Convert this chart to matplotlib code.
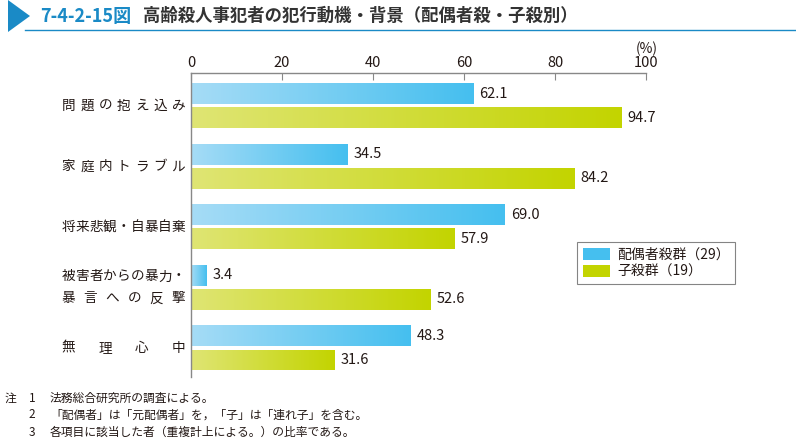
import matplotlib
matplotlib.use('Agg')
import matplotlib.pyplot as plt
from matplotlib.colors import LinearSegmentedColormap
from matplotlib.patches import Polygon, Patch
import numpy as np

plt.rcParams['font.family'] = ['Noto Sans CJK JP', 'DejaVu Sans']

# data
categories = ['問題の抱え込み', '家庭内トラブル', '将来悲観・自暴自棄',
              '被害者からの暴力・\n暴言への反撃', '無理心中']
spouse = [62.1, 34.5, 69.0, 3.4, 48.3]
child = [94.7, 84.2, 57.9, 52.6, 31.6]
series_names = ['配偶者殺群（29）', '子殺群（19）']
xticks = [0, 20, 40, 60, 80, 100]
notes = ['法務総合研究所の調査による。',
         '「配偶者」は「元配偶者」を，「子」は「連れ子」を含む。',
         '各項目に該当した者（重複計上による。）の比率である。']

txt = '#231815'
blue_l, blue_d = '#a6dcf6', '#45bfef'
green_l, green_d = '#dfe574', '#c3d400'
W, H = 796, 438

fig = plt.figure(figsize=(W / 100, H / 100), dpi=100)
ax = fig.add_axes([191 / W, 1 - 377 / H, (646 - 191) / W, (377 - 73) / H])

y = np.arange(len(categories))
bh = 0.345
off = 0.2
b1 = ax.barh(y - off, spouse, height=bh, color=blue_d)
b2 = ax.barh(y + off, child, height=bh, color=green_d)

# gradient fill on every bar
grad = np.linspace(0, 1, 256).reshape(1, -1)
for bars, c0, c1 in [(b1, blue_l, blue_d), (b2, green_l, green_d)]:
    cmap = LinearSegmentedColormap.from_list('g', [c0, c1])
    for p in bars:
        x0, yy = p.get_x(), p.get_y()
        im = ax.imshow(grad, extent=[x0, x0 + p.get_width(), yy + p.get_height(), yy],
                       aspect='auto', cmap=cmap, zorder=p.get_zorder() + 0.1)
        im.set_clip_path(p)

for bars, vals in [(b1, spouse), (b2, child)]:
    for p, v in zip(bars, vals):
        ax.text(v + 1.3, p.get_y() + p.get_height() / 2, f'{v:.1f}',
                va='center', ha='left', fontsize=10.5, color=txt)

ax.set_xlim(0, 100)
ax.set_ylim(4.48, -0.54)
ax.set_aspect('auto')
ax.xaxis.tick_top()
ax.set_xticks(xticks)
ax.set_xticklabels([str(t) for t in xticks], fontsize=10.5, color=txt)
ax.tick_params(axis='x', direction='in', length=5, color='#888888', pad=2)
ax.set_yticks([])
for s in ['right', 'bottom']:
    ax.spines[s].set_visible(False)
for s in ['left', 'top']:
    ax.spines[s].set_color('#888888')
    ax.spines[s].set_linewidth(1)

# category labels, justified between x=62 and x=185
def spread(label, ypix, x0=62, x1=185, cw=13.2):
    n = len(label)
    xs = np.linspace(x0 + cw / 2, x1 - cw / 2, n) if n > 1 else [x1 - cw / 2]
    for ch, xp in zip(label, xs):
        fig.text(xp / W, 1 - ypix / H, ch, ha='center', va='center',
                 fontsize=9.8, color=txt)

for i, lab in enumerate(categories):
    yc = ax.transData.transform((0, i))[1]
    ypix = H - yc
    lines = lab.split('\n')
    if len(lines) == 1:
        spread(lines[0], ypix)
    else:
        spread(lines[0], ypix - 11)
        spread(lines[1], ypix + 11)

# legend
handles = [Patch(facecolor=blue_d, edgecolor='none'),
           Patch(facecolor=green_d, edgecolor='none')]
leg = fig.legend(handles, series_names, loc='upper left',
                 bbox_to_anchor=(577 / W, 1 - 242 / H), fontsize=10,
                 frameon=True, fancybox=False, edgecolor='#666666',
                 handlelength=2.0, handleheight=0.95, handletextpad=0.5,
                 borderpad=0.4, labelspacing=0.2, borderaxespad=0)
leg.get_frame().set_linewidth(0.8)
for t in leg.get_texts():
    t.set_color(txt)

# header
fig.patches.append(Polygon([[8 / W, 1 - 0 / H], [8 / W, 1 - 32 / H], [30 / W, 1 - 16 / H]],
                           closed=True, transform=fig.transFigure,
                           facecolor='#1a8ac6', edgecolor='none'))
fig.add_artist(plt.Line2D([25 / W, 1], [1 - 30 / H, 1 - 30 / H],
                          transform=fig.transFigure, color='#1a8ac6', lw=1))
fig.text(40 / W, 1 - 16 / H, '7-4-2-15図', ha='left', va='center', fontsize=13,
         fontweight='bold', color='#1a8ac6')
fig.text(143 / W, 1 - 16 / H, '高齢殺人事犯者の犯行動機・背景（配偶者殺・子殺別）',
         ha='left', va='center', fontsize=12.5, fontweight='bold', color='#333333')

# percent unit above the 100 tick
fig.text(647 / W, 1 - 49 / H, '(%)', ha='center', va='center', fontsize=10, color=txt)

# notes
fig.text(5 / W, 1 - 398 / H, '注', ha='left', va='center', fontsize=8.5, color=txt)
for k, n in enumerate(notes):
    yp = 1 - (398 + 17 * k) / H
    fig.text(32 / W, yp, str(k + 1), ha='center', va='center', fontsize=8.5, color=txt)
    fig.text(50 / W, yp, n, ha='left', va='center', fontsize=8.5, color=txt)

fig.savefig('out.png', dpi=100)
